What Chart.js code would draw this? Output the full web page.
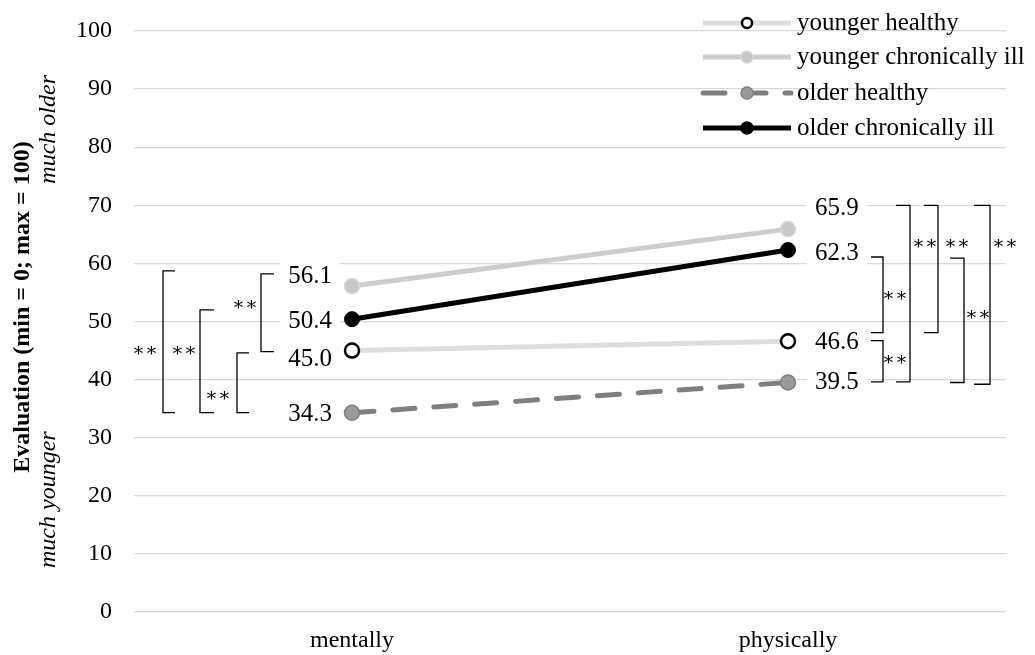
<!DOCTYPE html>
<html>
<head>
<meta charset="utf-8">
<script src="https://cdn.jsdelivr.net/npm/chart.js@4.4.1/dist/chart.umd.min.js"></script>
<style>
    html, body { margin: 0; padding: 0; background: #fff; }
    #wrap { width: 1035px; height: 655px; }
</style>
</head>
<body>
<div id="wrap"><canvas id="chart" width="1035" height="655"></canvas></div>
<script>
const categories = ['mentally', 'physically'];
const seriesNames = ['younger healthy', 'younger chronically ill', 'older healthy', 'older chronically ill'];
const youngerHealthy = [45.0, 46.6];
const youngerIll = [56.1, 65.9];
const olderHealthy = [34.3, 39.5];
const olderIll = [50.4, 62.3];
const yTicks = [0, 10, 20, 30, 40, 50, 60, 70, 80, 90, 100];

// significance brackets: [category index, top value, bottom value, star value]
const brackets = [
    [0, 58.7, 34.3, 44.9],
    [0, 52.0, 34.3, 44.9],
    [0, 44.6, 34.3, 37.2],
    [0, 58.2, 44.8, 52.8],
    [1, 61.1, 48.1, 54.4],
    [1, 46.7, 39.6, 43.4],
    [1, 70.0, 39.6, 63.3],
    [1, 70.0, 48.1, 63.3],
    [1, 60.9, 39.5, 51.1],
    [1, 70.0, 39.2, 63.3]
];
// pixel x layout of brackets relative to the category (vertical line x, tick end x, star x)
const bracketX = [
    [-189, -177, -207],
    [-152, -138, -168],
    [-115, -103, -134],
    [-91, -78, -107],
    [95, 83, 107],
    [95, 83, 107],
    [122, 108, 137],
    [150, 136, 169],
    [176, 162, 190],
    [202, 186, 217]
];

// label offsets (dx, dy) for each series/category
const labelOffsets = [
    [[-20, 8], [27, 0]],
    [[-20, -11], [27, -22]],
    [[-20, 1], [27, -1]],
    [[-20, 1], [27, 2]]
];

const serif = "'Liberation Serif', 'Times New Roman', serif";

const datasets = [
    {
        label: seriesNames[0], data: youngerHealthy,
        borderColor: '#dedede', borderWidth: 5,
        pointRadius: 7, pointBackgroundColor: '#ffffff', pointBorderColor: '#000000', pointBorderWidth: 2.5
    },
    {
        label: seriesNames[1], data: youngerIll,
        borderColor: '#cdcdcd', borderWidth: 5,
        pointRadius: 7.5, pointBackgroundColor: '#c8c8c8', pointBorderColor: '#d8d8d8', pointBorderWidth: 1.5
    },
    {
        label: seriesNames[2], data: olderHealthy,
        borderColor: '#7f7f7f', borderWidth: 5, borderDash: [22, 19], borderCapStyle: 'round',
        pointRadius: 7.5, pointBackgroundColor: '#9a9a9a', pointBorderColor: '#808080', pointBorderWidth: 1.5
    },
    {
        label: seriesNames[3], data: olderIll,
        borderColor: '#000000', borderWidth: 5,
        pointRadius: 7.5, pointBackgroundColor: '#000000', pointBorderColor: '#000000', pointBorderWidth: 1
    }
];

function fmt(v) { return v.toFixed(1); }

const extras = {
    id: 'extras',
    beforeDatasetsDraw(chart) {
        const ctx = chart.ctx;
        ctx.save();
        ctx.font = '25px ' + serif;
        ctx.textBaseline = 'middle';
        chart.data.datasets.forEach((ds, i) => {
            const meta = chart.getDatasetMeta(i);
            meta.data.forEach((pt, j) => {
                const txt = fmt(ds.data[j]);
                const [dx, dy] = labelOffsets[i][j];
                const w = ctx.measureText(txt).width;
                const x = pt.x + dx;
                const y = pt.y + dy;
                const left = j === 0 ? x - w : x;
                ctx.fillStyle = '#ffffff';
                ctx.fillRect(left - 8, y - 16, w + 16, 32);
                ctx.fillStyle = '#000000';
                ctx.textAlign = j === 0 ? 'right' : 'left';
                ctx.fillText(txt, x, y + 1);
            });
        });
        ctx.restore();
    },
    afterDraw(chart) {
        const ctx = chart.ctx;
        const ys = chart.scales.y;
        const xs = chart.scales.x;
        ctx.save();

        // brackets
        ctx.strokeStyle = '#000000';
        ctx.lineWidth = 1.3;
        ctx.fillStyle = '#000000';
        ctx.font = "19px 'DejaVu Serif', serif";
        ctx.textAlign = 'center';
        ctx.textBaseline = 'middle';
        brackets.forEach((b, k) => {
            const cx = xs.getPixelForValue(b[0]);
            const vx = cx + bracketX[k][0];
            const tx = cx + bracketX[k][1];
            const top = ys.getPixelForValue(b[1]);
            const bot = ys.getPixelForValue(b[2]);
            ctx.beginPath();
            ctx.moveTo(tx, top);
            ctx.lineTo(vx, top);
            ctx.lineTo(vx, bot);
            ctx.lineTo(tx, bot);
            ctx.stroke();
            ctx.fillText('\u2217\u2217', cx + bracketX[k][2], ys.getPixelForValue(b[3]));
        });

        // legend
        const lx0 = 703, lx1 = 791, ly = [23, 57, 93, 128];
        chart.data.datasets.forEach((ds, i) => {
            const y = ly[i];
            ctx.setLineDash(ds.borderDash || []);
            ctx.lineCap = ds.borderCapStyle || 'butt';
            ctx.strokeStyle = ds.borderColor;
            ctx.lineWidth = ds.borderWidth;
            ctx.beginPath();
            ctx.moveTo(lx0, y);
            ctx.lineTo(lx1, y);
            ctx.stroke();
            ctx.setLineDash([]);
            ctx.beginPath();
            ctx.arc(747, y, i === 0 ? 5 : 6, 0, Math.PI * 2);
            ctx.fillStyle = ds.pointBackgroundColor;
            ctx.fill();
            ctx.lineWidth = i === 0 ? 2.5 : 1.5;
            ctx.strokeStyle = ds.pointBorderColor;
            ctx.stroke();
            ctx.fillStyle = '#000000';
            ctx.font = '25px ' + serif;
            ctx.textAlign = 'left';
            ctx.textBaseline = 'middle';
            ctx.fillText(ds.label, 797, y);
        });

        // y axis title
        ctx.translate(23, 307);
        ctx.rotate(-Math.PI / 2);
        ctx.fillStyle = '#000000';
        ctx.textBaseline = 'middle';
        ctx.textAlign = 'center';
        ctx.font = 'bold 24px ' + serif;
        ctx.fillText('Evaluation (min = 0; max = 100)', 0, 0);
        ctx.font = 'italic 24px ' + serif;
        ctx.textAlign = 'left';
        ctx.fillText('much younger', -261, 26);
        ctx.textAlign = 'right';
        ctx.fillText('much older', 232, 26);
        ctx.restore();
    }
};

new Chart(document.getElementById('chart'), {
    type: 'line',
    data: { labels: categories, datasets },
    options: {
        responsive: false,
        animation: false,
        layout: { padding: { top: 31, right: 29, bottom: 0, left: 0 } },
        plugins: { legend: { display: false }, tooltip: { enabled: false } },
        scales: {
            x: {
                offset: true,
                grid: { display: false },
                border: { display: false },
                ticks: { color: '#000', font: { family: serif, size: 24 }, padding: 6 },
                afterFit(scale) { scale.height = 43; scale.paddingLeft = 0; scale.paddingRight = 0; }
            },
            y: {
                min: 0, max: 100,
                afterBuildTicks(scale) { scale.ticks = yTicks.map(v => ({ value: v })); },
                grid: { color: '#d9d9d9', lineWidth: 1.3, drawTicks: false },
                border: { display: false },
                ticks: { color: '#000', font: { family: serif, size: 24 }, padding: 22 },
                afterFit(scale) { scale.width = 134; scale.paddingTop = 0; scale.paddingBottom = 0; }
            }
        }
    },
    plugins: [extras]
});
</script>
</body>
</html>
